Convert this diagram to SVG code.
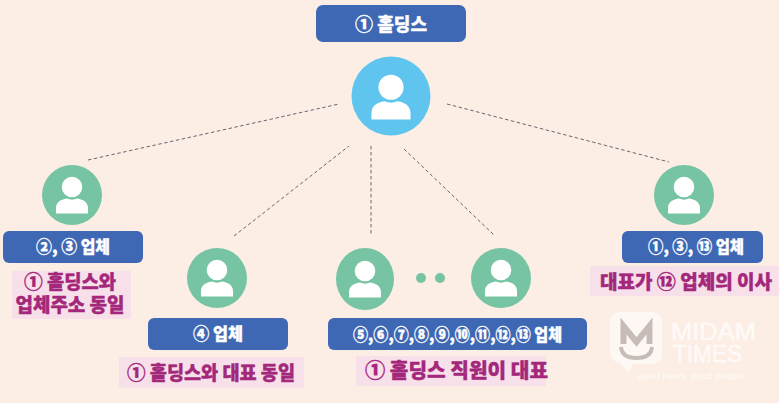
<svg xmlns="http://www.w3.org/2000/svg" width="779" height="403" viewBox="0 0 779 403">
<style>
text{font-family:"Noto Sans CJK KR","Noto Sans",sans-serif;font-weight:900;text-anchor:middle}
.box{fill:#3f68b4}
.lb{fill:#fff;font-size:17px;stroke:#fff;stroke-width:.35}
.pk{fill:#f8e0ea}
.nt{fill:#a3277a;font-size:19px;stroke:#a3277a;stroke-width:.4}
.gr{fill:#76c4a3}
.line{fill:none;stroke:#6a6672;stroke-width:1;stroke-dasharray:3.5 2.5}
.logo{fill:#fff;fill-opacity:.75;stroke:#fff;stroke-opacity:.5;stroke-width:.5;font-family:"Liberation Sans",sans-serif;font-weight:400;text-anchor:start}
.mk{fill:none;stroke:#bdb2ad;stroke-opacity:.85}
</style>
<defs>
<g id="p"><circle cx="0" cy="-8" r="10.3" fill="#fff"/><path d="M-16 18.5V13C-16 6-9 4-5 3.5C-2 5 2 5 5 3.5C9 4 16 6 16 13V18.5Z" fill="#fff"/></g>
</defs>
<rect width="779" height="403" fill="#fdeee5"/>
<g id="connectors" class="line">
<path d="M88 160L339 104"/><path d="M234 236L349 146"/><path d="M371 146V235"/><path d="M404 149L494 235"/><path d="M447 104L669 162"/>
</g>
<g id="root"><rect class="box" x="316" y="5" width="150" height="37" rx="7"/><text class="lb" x="391" y="31" style="font-size:18.5px" textLength="72" lengthAdjust="spacingAndGlyphs">① 홀딩스</text>
<circle cx="391" cy="96" r="39.5" fill="#5fc4ee"/><use href="#p" transform="translate(391,97) scale(1.22)"/></g>
<g id="n1"><circle class="gr" cx="72" cy="195" r="30"/><use href="#p" transform="translate(72,195)"/>
<rect class="box" x="3" y="231" width="140" height="32" rx="6"/><text class="lb" x="73" y="253" textLength="74" lengthAdjust="spacingAndGlyphs">②, ③ 업체</text>
<rect class="pk" x="12" y="271" width="119" height="48"/><text class="nt"><tspan x="70" y="289" textLength="92" lengthAdjust="spacingAndGlyphs">① 홀딩스와</tspan><tspan x="70" y="312" textLength="109" lengthAdjust="spacingAndGlyphs">업체주소 동일</tspan></text></g>
<g id="n2"><circle class="gr" cx="217" cy="278" r="30"/><use href="#p" transform="translate(217,278)"/>
<rect class="box" x="148" y="318" width="140" height="32" rx="6"/><text class="lb" x="218" y="340" textLength="50" lengthAdjust="spacingAndGlyphs">④ 업체</text>
<rect class="pk" x="119" y="357" width="185" height="31"/><text class="nt" x="211" y="380" textLength="168" lengthAdjust="spacingAndGlyphs">① 홀딩스와 대표 동일</text></g>
<g id="n3"><ellipse class="gr" cx="365" cy="279" rx="29" ry="31"/><use href="#p" transform="translate(365,279)"/>
<circle class="gr" cx="501" cy="278" r="30"/><use href="#p" transform="translate(501,278)"/>
<circle class="gr" cx="421" cy="278" r="5"/><circle class="gr" cx="440" cy="278" r="5"/>
<rect class="box" x="328" y="318" width="259" height="32" rx="6"/><text class="lb" x="457.500" y="341" textLength="209" lengthAdjust="spacingAndGlyphs">⑤,⑥,⑦,⑧,⑨,⑩,⑪,⑫,⑬ 업체</text>
<rect class="pk" x="356" y="356" width="190" height="30"/><text class="nt" x="456.500" y="377.500" textLength="183" lengthAdjust="spacingAndGlyphs" style="font-size:20px">① 홀딩스 직원이 대표</text></g>
<g id="n4"><circle class="gr" cx="684" cy="195" r="30"/><use href="#p" transform="translate(684,195)"/>
<rect class="box" x="622" y="231" width="141" height="32" rx="6"/><text class="lb" x="696" y="253" textLength="96" lengthAdjust="spacingAndGlyphs">①, ③, ⑬ 업체</text>
<rect class="pk" x="590" y="266" width="189" height="30"/><text class="nt" x="686" y="288.500" textLength="172" lengthAdjust="spacingAndGlyphs">대표가 ⑫ 업체의 이사</text></g>
<g id="logo"><path d="M621 312H651Q662 312 662 323V353Q662 364 651 364H633L629 373L620 363Q610 361 610 352V323Q610 312 621 312Z" fill="#fff" fill-opacity=".6"/>
<path class="mk" d="M623.500 344V326L636.500 342L649.500 326V344" stroke-width="6"/>
<path class="mk" d="M621 347Q622 358 636.500 358Q651 358 652 347" stroke-width="4"/>
<text class="logo" style="font-size:23px"><tspan x="671" y="340" textLength="85" lengthAdjust="spacingAndGlyphs">MIDAM</tspan><tspan x="673" y="362" textLength="69" lengthAdjust="spacingAndGlyphs">TIMES</tspan></text>
<text class="logo" x="638" y="379" style="font-size:9.500px;stroke-width:0" textLength="106" lengthAdjust="spacingAndGlyphs">good news, good people</text></g>
</svg>
